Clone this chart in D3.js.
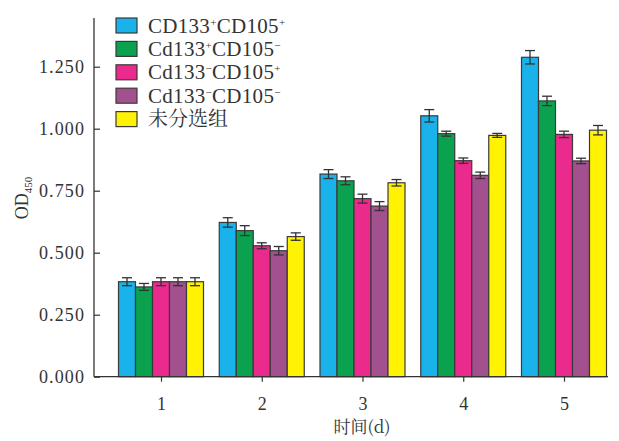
<!DOCTYPE html>
<html>
<head>
<meta charset="utf-8">
<script src="https://cdn.jsdelivr.net/npm/d3@7"></script>
<style>
  body { margin: 0; background: #fff; }
</style>
</head>
<body>
<div id="chart"></div>
<script>
var days = [1, 2, 3, 4, 5];
var groups = ["g1", "g2", "g3", "g4", "g5"];
var colors = ["#19b2ea", "#0ba24f", "#ea2a8c", "#a2508e", "#fff203"];

// mean OD450 per group, one value per day
var g1 = [0.383, 0.622, 0.817, 1.052, 1.288];
var g2 = [0.362, 0.589, 0.790, 0.980, 1.112];
var g3 = [0.383, 0.528, 0.718, 0.871, 0.977];
var g4 = [0.383, 0.508, 0.688, 0.812, 0.870];
var g5 = [0.383, 0.565, 0.782, 0.973, 0.994];

// error bar half heights
var e1 = [0.016, 0.019, 0.018, 0.025, 0.027];
var e2 = [0.014, 0.020, 0.016, 0.010, 0.019];
var e3 = [0.016, 0.012, 0.018, 0.011, 0.013];
var e4 = [0.016, 0.017, 0.018, 0.013, 0.011];
var e5 = [0.016, 0.015, 0.013, 0.008, 0.019];

var yTicks = [0, 0.25, 0.5, 0.75, 1.0, 1.25];

var means = [g1, g2, g3, g4, g5];
var errs = [e1, e2, e3, e4, e5];

var SERIF = "Liberation Serif";
var CJK = "Noto Serif CJK SC, Liberation Serif";
var INK = "#333";

var width = 619, height = 441;

var svg = d3.select("#chart").append("svg")
    .attr("width", width)
    .attr("height", height);

var y = d3.scaleLinear().domain([0, 1.25]).range([376.7, 66.7]);
var xc = d3.scalePoint().domain(days).range([161, 564]);
var xs = d3.scaleBand().domain(groups).range([-42.5, 42.5]);

var data = [];
days.forEach(function (d, i) {
    groups.forEach(function (g, j) {
        data.push({ day: d, group: g, j: j, v: means[j][i], e: errs[j][i] });
    });
});

// bars
svg.append("g").selectAll("rect")
    .data(data)
    .join("rect")
    .attr("x", function (d) { return xc(d.day) + xs(d.group); })
    .attr("y", function (d) { return y(d.v); })
    .attr("width", xs.bandwidth())
    .attr("height", function (d) { return y(0) - y(d.v); })
    .attr("fill", function (d) { return colors[d.j]; })
    .attr("stroke", "#3a3a3a")
    .attr("stroke-width", 1.2);

// error bars
var eb = svg.append("g").attr("stroke", INK).attr("stroke-width", 1.3);
data.forEach(function (d) {
    var cx = xc(d.day) + xs(d.group) + xs.bandwidth() / 2;
    var top = y(d.v + d.e), bot = y(d.v - d.e);
    eb.append("line").attr("x1", cx).attr("x2", cx).attr("y1", top).attr("y2", bot);
    eb.append("line").attr("x1", cx - 5).attr("x2", cx + 5).attr("y1", top).attr("y2", top);
    eb.append("line").attr("x1", cx - 5).attr("x2", cx + 5).attr("y1", bot).attr("y2", bot);
});

// y axis
var yAxis = d3.axisLeft(y).tickValues(yTicks).tickFormat(d3.format(".3f"))
    .tickSizeInner(-6).tickSizeOuter(0).tickPadding(9);
var ya = svg.append("g").attr("transform", "translate(94,0)").call(yAxis)
    .attr("font-family", SERIF).attr("font-size", 18);
ya.select(".domain").remove();
ya.selectAll("line").attr("stroke", INK).attr("stroke-width", 1.2);
ya.selectAll("text").attr("fill", INK).attr("letter-spacing", 1.1);
svg.append("line").attr("x1", 94).attr("x2", 94).attr("y1", 18).attr("y2", y(0))
    .attr("stroke", INK).attr("stroke-width", 1.3);

// x axis
var xAxis = d3.axisBottom(xc).tickSizeInner(5).tickSizeOuter(0).tickPadding(16);
var xa = svg.append("g").attr("transform", "translate(0," + y(0) + ")").call(xAxis)
    .attr("font-family", SERIF).attr("font-size", 18);
xa.select(".domain").remove();
xa.selectAll("line").attr("stroke", INK).attr("stroke-width", 1.2);
xa.selectAll("text").attr("fill", INK);
svg.append("line").attr("x1", 94).attr("x2", 608).attr("y1", y(0)).attr("y2", y(0))
    .attr("stroke", INK).attr("stroke-width", 1.3);

// axis titles
svg.append("text").attr("x", 362).attr("y", 433)
    .attr("font-family", CJK).attr("fill", INK)
    .attr("text-anchor", "middle").attr("font-size", 17).text("时间(d)");

var yt = svg.append("text").attr("transform", "translate(28,198) rotate(-90)")
    .attr("font-family", SERIF).attr("fill", INK)
    .attr("text-anchor", "middle").attr("font-size", 18);
yt.append("tspan").text("OD");
yt.append("tspan").attr("font-size", 11).attr("dy", 4).text("450");

// legend
var legendLabels = [
    [["CD133", ""], ["+", "s"], ["CD105", ""], ["+", "s"]],
    [["Cd133", ""], ["+", "s"], ["CD105", ""], ["\u2212", "s"]],
    [["Cd133", ""], ["\u2212", "s"], ["CD105", ""], ["+", "s"]],
    [["Cd133", ""], ["\u2212", "s"], ["CD105", ""], ["\u2212", "s"]],
    [["未分选组", "c"]]
];
var leg = svg.append("g");
legendLabels.forEach(function (parts, i) {
    var ly = 18 + i * 23.4;
    leg.append("rect").attr("x", 116).attr("y", ly).attr("width", 21).attr("height", 15)
        .attr("fill", colors[i]).attr("stroke", "#3a3a3a").attr("stroke-width", 1.2);
    var t = leg.append("text").attr("x", 148).attr("y", ly + 14.5)
        .attr("font-family", SERIF).attr("font-size", 21).attr("fill", INK)
        .attr("letter-spacing", 0.3);
    if (parts[0][1] === "c") t.attr("font-family", CJK).attr("font-size", 20).attr("letter-spacing", 0);
    parts.forEach(function (p) {
        var s = t.append("tspan").text(p[0]);
        if (p[1] === "s") s.attr("font-size", 11).attr("baseline-shift", "65%");
    });
});
</script>
</body>
</html>
